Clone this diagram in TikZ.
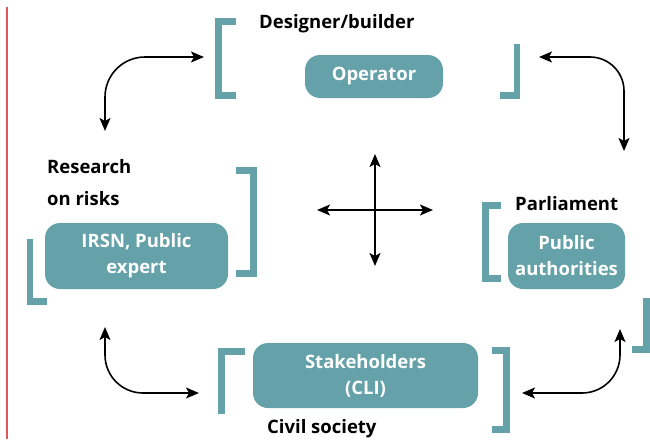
\documentclass[tikz,border=0pt]{standalone}
\usepackage{fontspec}
\setmainfont{Open Sans}
\usetikzlibrary{arrows.meta}
\definecolor{teal1}{RGB}{100,161,168}
\definecolor{redline}{RGB}{225,85,95}
\begin{document}
\begin{tikzpicture}[x=1pt,y=-1pt,
  box/.style={fill=teal1, rounded corners=15pt, text=white, font=\bfseries\fontsize{18.5}{26}\selectfont, align=center, inner sep=0pt},
  lbl/.style={font=\bfseries\fontsize{18.5}{20}\selectfont, inner sep=0pt, anchor=base west},
  brk/.style={draw=teal1, line width=6.5pt, miter limit=10},
  conn/.style={line width=1.6pt, {Stealth[length=13pt,width=11pt,inset=3pt]}-{Stealth[length=13pt,width=11pt,inset=3pt]}}
]
\useasboundingbox (0,0) rectangle (650,439);
\draw[redline, line width=1.3pt] (7,7) -- (7,439);

% nodes
\node[box, minimum width=138pt, minimum height=43pt] (op) at (374,76.5) {Operator};
\node[box, minimum width=183pt, minimum height=66pt] (irsn) at (136.5,256) {IRSN, Public\\expert};
\node[box, minimum width=117pt, minimum height=66pt] (pa) at (566.5,256) {Public\\authorities};
\node[box, minimum width=225pt, minimum height=65pt] (sh) at (365.5,375.5) {Stakeholders\\(CLI)};

% labels
\node[lbl] (des) at (259,28) {Designer/builder};
\node[lbl] (res1) at (47,173) {Research};
\node[lbl] (res2) at (47,205) {on risks};
\node[lbl] (parl) at (515,210) {Parliament};
\node[lbl] (civ) at (267,433) {Civil society};

% brackets
\draw[brk] (236,21.5) -- (218.5,21.5) -- (218.5,95.5) -- (236,95.5);
\draw[brk] (517,44) -- (517,95.5) -- (500,95.5);
\draw[brk] (236,170.5) -- (253.5,170.5) -- (253.5,273.5) -- (236,273.5);
\draw[brk] (30,239) -- (30,301.5) -- (47,301.5);
\draw[brk] (245,351.5) -- (221.5,351.5) -- (221.5,414);
\draw[brk] (492,350.5) -- (506.5,350.5) -- (506.5,429.5) -- (492,429.5);
\draw[brk] (501,205.5) -- (485.5,205.5) -- (485.5,278.5) -- (501,278.5);
\draw[brk] (646.5,298) -- (646.5,349.5) -- (632,349.5);

% connector ends
\coordinate (tlA) at (204,57);
\coordinate (tlB) at (105,131);
\coordinate (trA) at (539,57);
\coordinate (trB) at (624,151);
\coordinate (blA) at (105,327);
\coordinate (blB) at (199,393);
\coordinate (brA) at (522,393);
\coordinate (brB) at (620,329);
\coordinate (cU) at (375,154);
\coordinate (cD) at (375,266);
\coordinate (cL) at (317,210);
\coordinate (cR) at (433,210);

\draw[conn, rounded corners=40pt] (tlA) -| (tlB);
\draw[conn, rounded corners=34pt] (trA) -| (trB);
\draw[conn, rounded corners=38pt] (blA) |- (blB);
\draw[conn, rounded corners=38pt] (brA) -| (brB);
\draw[conn] (cU) -- (cD);
\draw[conn] (cL) -- (cR);
\end{tikzpicture}
\end{document}
